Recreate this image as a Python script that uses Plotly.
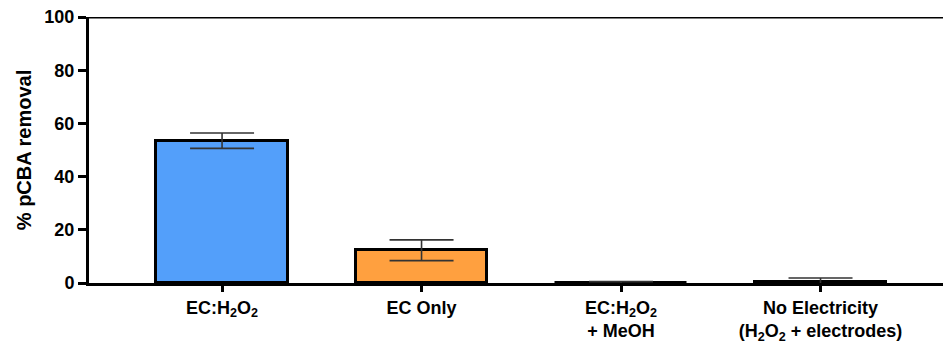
import plotly.graph_objects as go

# pCBA removal under each treatment condition
categories = [
    "EC:H<sub>2</sub>O<sub>2</sub>",
    "EC Only",
    "EC:H<sub>2</sub>O<sub>2</sub><br>+ MeOH",
    "No Electricity<br>(H<sub>2</sub>O<sub>2</sub> + electrodes)",
]
removal = [53.5, 12.3, 0.0, 0.3]
removal_err = [2.9, 3.9, 0.5, 1.6]
bar_colors = ["#539ffa", "#ffa03f", "#7fc97f", "#bdbdbd"]

FONT = "Liberation Sans, Arial, sans-serif"

fig = go.Figure()
fig.add_trace(go.Bar(
    x=list(range(len(categories))),
    y=removal,
    width=0.66,
    marker=dict(color=bar_colors, line=dict(color="black", width=3)),
    error_y=dict(type="data", array=removal_err, visible=True,
                 color="#333333", thickness=1.6, width=32),
))

# top frame line at 100 %
fig.add_shape(type="line", xref="paper", yref="y", x0=0, x1=1, y0=100, y1=100,
              line=dict(color="black", width=3))

fig.update_layout(
    width=943, height=343,
    margin=dict(l=89, r=0, t=17, b=60),
    plot_bgcolor="white", paper_bgcolor="white",
    showlegend=False,
    font=dict(family=FONT, size=18, color="black"),
    bargap=0,
)
fig.update_xaxes(
    range=[-0.667, 3.614],
    tickmode="array",
    tickvals=list(range(len(categories))),
    ticktext=[f"<b>{c}</b>" for c in categories],
    showline=True, linecolor="black", linewidth=3,
    ticks="outside", ticklen=6, tickwidth=3, tickcolor="black",
    showgrid=False, zeroline=False, automargin=False,
    tickfont=dict(family=FONT, size=18, color="black"),
)
fig.update_yaxes(
    range=[0, 100],
    tickvals=[0, 20, 40, 60, 80, 100],
    ticktext=["<b>%d</b>" % v for v in [0, 20, 40, 60, 80, 100]],
    showline=True, linecolor="black", linewidth=3,
    ticks="outside", ticklen=8, tickwidth=3, tickcolor="black",
    showgrid=False, zeroline=False, automargin=False,
    tickfont=dict(family=FONT, size=18, color="black"),
    title=dict(text="<b>% pCBA removal</b>", font=dict(family=FONT, size=20), standoff=8),
)

fig.write_html("out.html")
